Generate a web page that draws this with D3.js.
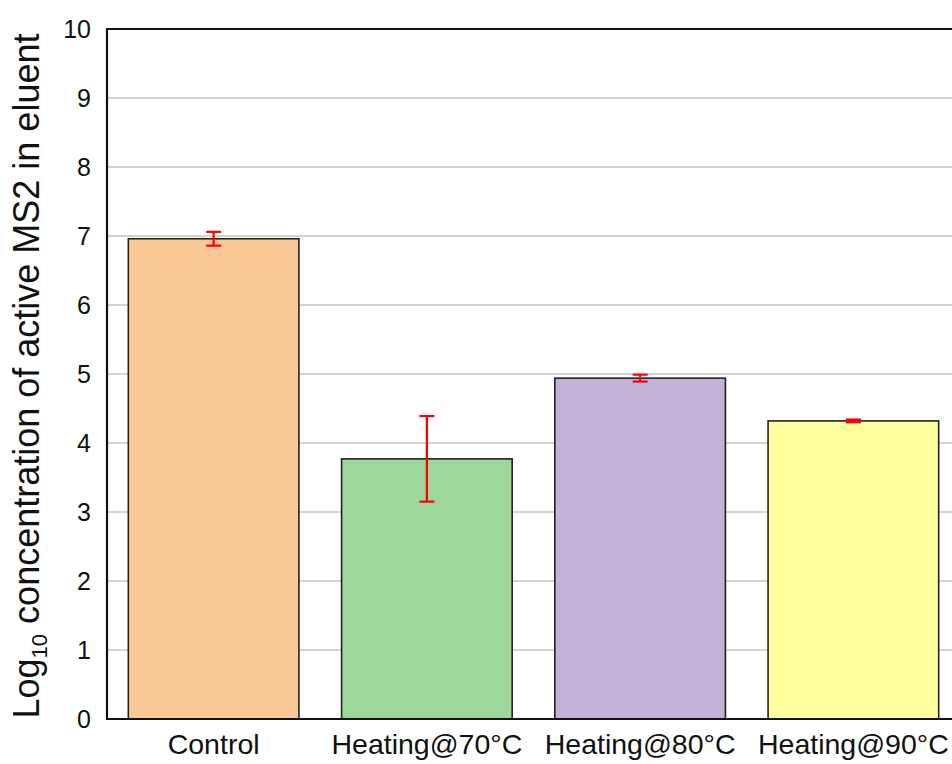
<!DOCTYPE html>
<html>
<head>
<meta charset="utf-8">
<script src="https://cdn.jsdelivr.net/npm/d3@7"></script>
<style>
  html, body { margin: 0; padding: 0; background: #fff; }
  svg { display: block; font-family: "Liberation Sans", Arial, sans-serif; }
</style>
</head>
<body>
<svg id="chart" width="952" height="764"></svg>
<script>
// Treatments and log10 concentrations of active MS2 recovered in the eluent
const categories = ["Control", "Heating@70°C", "Heating@80°C", "Heating@90°C"];
const logConc = [6.96, 3.77, 4.94, 4.32];
const errBars = [0.10, 0.62, 0.05, 0.02];
const barColors = ["#fac896", "#9ed79b", "#c2b2d6", "#ffff9e"];
const yTicks = [0, 1, 2, 3, 4, 5, 6, 7, 8, 9, 10];

const svg = d3.select("#chart");
const plotLeft = 107, plotRight = 960, plotTop = 29, plotBottom = 719;

const x = d3.scaleBand().domain(categories).range([plotLeft, plotRight])
  .paddingInner(0.2).paddingOuter(0.1);
const y = d3.scaleLinear().domain([0, 10]).range([plotBottom, plotTop]);

// horizontal gridlines
svg.append("g").selectAll("line").data(yTicks.filter(t => t > 0 && t < 10))
  .join("line")
  .attr("x1", plotLeft).attr("x2", plotRight)
  .attr("y1", d => y(d)).attr("y2", d => y(d))
  .attr("stroke", "#c4c4c4").attr("stroke-width", 1.6);

// bars
svg.append("g").selectAll("rect").data(categories).join("rect")
  .attr("x", d => x(d))
  .attr("y", (d, i) => y(logConc[i]))
  .attr("width", x.bandwidth())
  .attr("height", (d, i) => y(0) - y(logConc[i]))
  .attr("fill", (d, i) => barColors[i])
  .attr("stroke", "#222").attr("stroke-width", 1.6);

// error bars
const eb = svg.append("g").attr("stroke", "#ff0000").attr("stroke-width", 2.2);
categories.forEach((c, i) => {
  const cx = x(c) + x.bandwidth() / 2;
  const hi = y(logConc[i] + errBars[i]), lo = y(logConc[i] - errBars[i]);
  eb.append("line").attr("x1", cx).attr("x2", cx).attr("y1", hi).attr("y2", lo);
  eb.append("line").attr("x1", cx - 7.5).attr("x2", cx + 7.5).attr("y1", hi).attr("y2", hi);
  eb.append("line").attr("x1", cx - 7.5).attr("x2", cx + 7.5).attr("y1", lo).attr("y2", lo);
});

// frame: left axis, baseline and top border
const frame = svg.append("g").attr("stroke", "#111").attr("stroke-width", 2.2).attr("fill", "none");
frame.append("path").attr("d", `M${plotRight},${plotTop}H${plotLeft}V${plotBottom}H${plotRight}`);

// y axis labels
const yAxis = d3.axisLeft(y).tickValues(yTicks).tickSize(0).tickPadding(16);
svg.append("g").attr("transform", `translate(${plotLeft},0)`).call(yAxis)
  .call(g => g.select(".domain").remove())
  .selectAll("text")
  .attr("font-family", "'Liberation Sans', Arial, sans-serif")
  .attr("font-size", 25).attr("fill", "#111");

// x axis labels
const xAxis = d3.axisBottom(x).tickSize(0).tickPadding(15);
svg.append("g").attr("transform", `translate(0,${plotBottom})`).call(xAxis)
  .call(g => g.select(".domain").remove())
  .selectAll("text")
  .attr("font-family", "'Liberation Sans', Arial, sans-serif")
  .attr("font-size", 28.5).attr("fill", "#111");

// y axis title with subscript
const title = svg.append("text")
  .attr("transform", `translate(39,376) rotate(-90)`)
  .attr("text-anchor", "middle")
  .attr("font-size", 36).attr("fill", "#111");
title.append("tspan").text("Log");
title.append("tspan").attr("font-size", 22).attr("dy", 8).text("10");
title.append("tspan").attr("dy", -8).text(" concentration of active MS2 in eluent");
</script>
</body>
</html>
